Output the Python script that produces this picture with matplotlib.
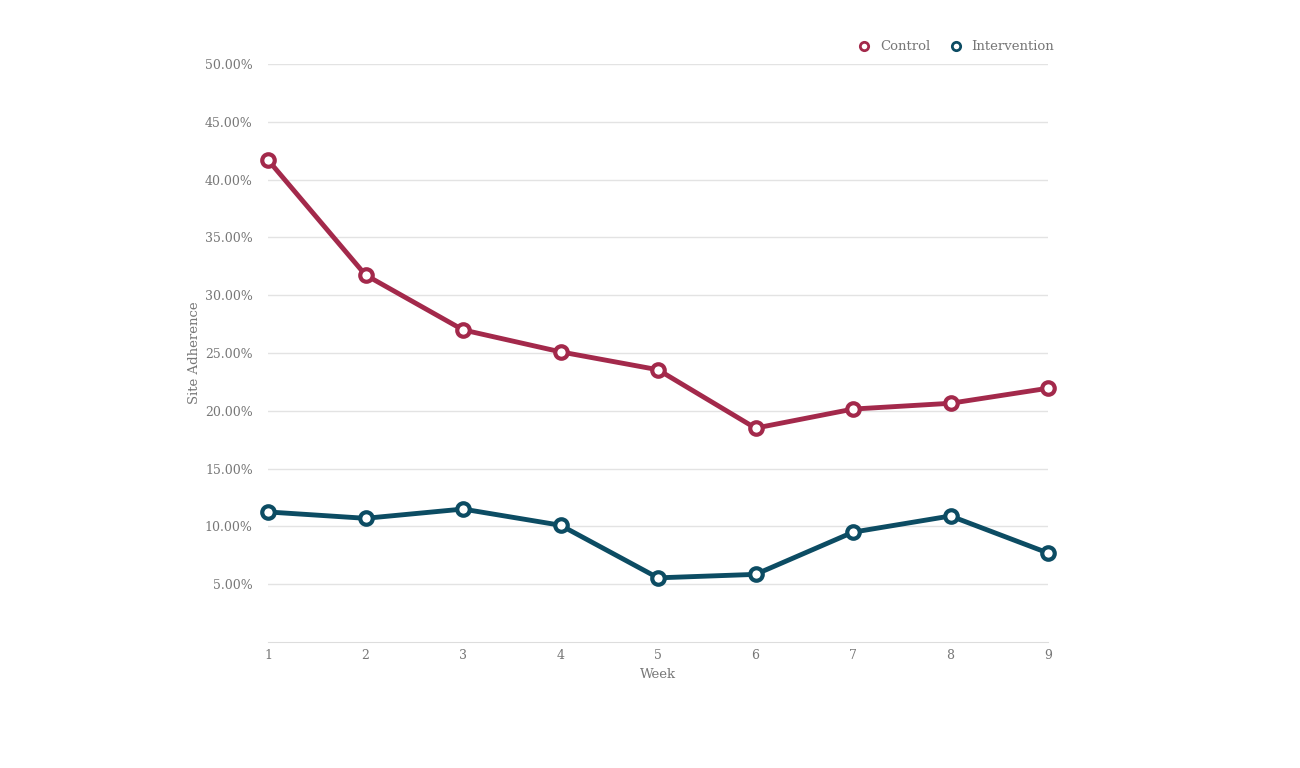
import matplotlib
matplotlib.use("Agg")
import matplotlib.pyplot as plt
from matplotlib.ticker import FuncFormatter

weeks = [1, 2, 3, 4, 5, 6, 7, 8, 9]
control = [41.7, 31.75, 27.0, 25.1, 23.55, 18.5, 20.15, 20.65, 21.95]
intervention = [11.25, 10.7, 11.5, 10.1, 5.55, 5.85, 9.5, 10.9, 7.7]
yticks = [5, 10, 15, 20, 25, 30, 35, 40, 45, 50]

c_ctrl = "#a3294b"
c_int = "#0c4c63"
txt = "#777777"

plt.rcParams['font.family'] = ['DejaVu Serif']

fig = plt.figure(figsize=(13, 7.68), dpi=100)
ax = fig.add_axes([268/1300, 1 - 642/768, (1048-268)/1300, (642-64)/768])

for vals, col, lab in [(control, c_ctrl, "Control"), (intervention, c_int, "Intervention")]:
    ax.plot(weeks, vals, color=col, lw=3.5, marker='o', markersize=9,
            markerfacecolor='white', markeredgecolor=col, markeredgewidth=3.0,
            label=lab, clip_on=False, zorder=3)

ax.set_xlim(1, 9)
ax.set_ylim(0, 50)
ax.set_yticks(yticks)
ax.yaxis.set_major_formatter(FuncFormatter(lambda v, p: f"{v:.2f}%"))
ax.set_xticks(weeks)
ax.grid(axis='y', color='#e3e3e3', lw=1)
ax.set_axisbelow(True)
for s in ['top', 'right', 'left']:
    ax.spines[s].set_visible(False)
ax.spines['bottom'].set_color('#dddddd')
ax.tick_params(axis='both', length=0, colors=txt, labelsize=9)
ax.tick_params(axis='y', pad=11)
ax.tick_params(axis='x', pad=5)
ax.set_xlabel("Week", color=txt, fontsize=9.5, labelpad=4)
ax.set_ylabel("Site Adherence", color=txt, fontsize=9.5, labelpad=3)

leg = ax.legend(loc='lower right', bbox_to_anchor=(1.018, 1.005), ncol=2, frameon=False,
                fontsize=9.5, handlelength=0.8, handletextpad=0.8, columnspacing=1.5,
                labelcolor=txt, borderaxespad=0.2)
for h in leg.legend_handles:
    h.set_linestyle('')
    h.set_markersize(6)
    h.set_markeredgewidth(2)

fig.savefig("out.png", dpi=100)
